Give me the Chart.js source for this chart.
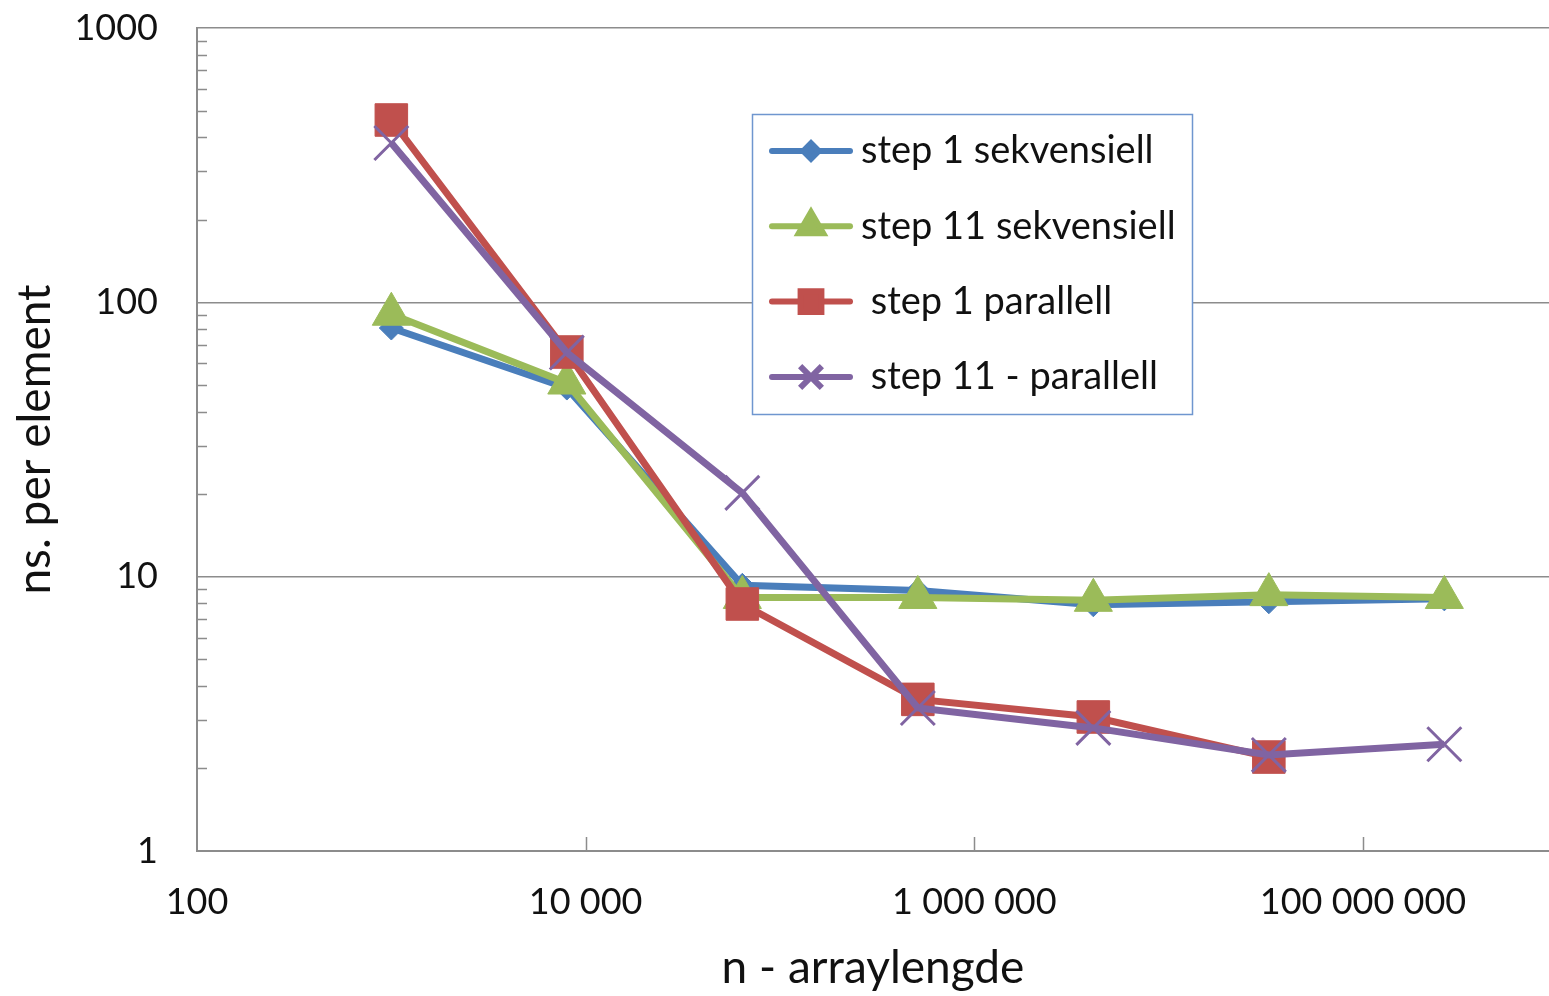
<!DOCTYPE html>
<html lang="no">
<head>
    <meta charset="UTF-8">
    <title>ns. per element</title>
    <script src="https://cdn.jsdelivr.net/npm/chart.js"></script>
    <style>
        body {
            margin: 0;
            background: #fff;
        }
        #wrap {
            width: 1549px;
            height: 996px;
            position: relative;
        }
    </style>
</head>
<body>
    <div id="wrap"><canvas id="chart"></canvas></div>
    <script>
        // array sizes (x) and ns per element (y)
        const arrayLengths = [1000, 8000, 64000, 512000, 4096000, 32768000, 262144000];
        const step1Seq  = [80.6, 48.7, 9.3, 8.9, 7.9, 8.1, 8.3];
        const step11Seq = [90.5, 50.8, 8.4, 8.4, 8.2, 8.6, 8.4];
        const step1Par  = [462, 65.9, 7.95, 3.57, 3.08, 2.2, null];
        const step11Par = [381, 65.6, 20.2, 3.32, 2.81, 2.24, 2.45];
        const seriesLabels = ['step 1 sekvensiell', 'step 11 sekvensiell', ' step 1 parallell', ' step 11 - parallell'];

        const xTickValues = [100, 10000, 1000000, 100000000];
        const yTickValues = [1, 10, 100, 1000];
        const yMinorTicks = [2, 3, 4, 5, 6, 7, 8, 9, 20, 30, 40, 50, 60, 70, 80, 90, 200, 300, 400, 500, 600, 700, 800, 900];

        const FONT = 'Lato, "DejaVu Sans", sans-serif';
        const AXIS_GREY = '#8c8c8c';
        const TEXT = '#111';

        function toPoints(values) {
            return arrayLengths.map((n, i) => ({ x: n, y: values[i] }));
        }

        function withSpaces(v) {
            return String(v).replace(/\B(?=(\d{3})+(?!\d))/g, ' ');
        }

        // minor ticks inside the plot + Excel-like legend box
        const decorations = {
            id: 'decorations',
            beforeDatasetsDraw(chart) {
                const ctx = chart.ctx;
                const xs = chart.scales.x, ys = chart.scales.y;
                const area = chart.chartArea;
                ctx.save();
                ctx.strokeStyle = AXIS_GREY;
                ctx.lineWidth = 1.5;
                ctx.beginPath();
                yMinorTicks.forEach(v => {
                    const py = Math.round(ys.getPixelForValue(v)) + 0.5;
                    ctx.moveTo(area.left, py);
                    ctx.lineTo(area.left + 10, py);
                });
                xTickValues.slice(1).forEach(v => {
                    const px = Math.round(xs.getPixelForValue(v)) + 0.5;
                    ctx.moveTo(px, area.bottom);
                    ctx.lineTo(px, area.bottom - 14);
                });
                ctx.stroke();
                ctx.restore();
            },
            afterDraw(chart) {
                const ctx = chart.ctx;
                const box = { left: 752, top: 114, right: 1192, bottom: 414 };
                ctx.save();
                ctx.fillStyle = '#fff';
                ctx.fillRect(box.left, box.top, box.right - box.left, box.bottom - box.top);
                ctx.strokeStyle = '#6f96cf';
                ctx.lineWidth = 1.5;
                ctx.strokeRect(box.left + 0.5, box.top + 0.5, box.right - box.left, box.bottom - box.top);

                chart.data.datasets.forEach((ds, i) => {
                    const y = box.top + 37 + i * 75.3;
                    ctx.strokeStyle = ds.borderColor;
                    ctx.lineWidth = 6;
                    ctx.lineCap = 'round';
                    ctx.beginPath();
                    ctx.moveTo(772, y);
                    ctx.lineTo(850, y);
                    ctx.stroke();

                    ctx.fillStyle = ds.pointBackgroundColor;
                    ctx.strokeStyle = ds.pointBorderColor;
                    ctx.lineCap = 'butt';
                    Chart.helpers.drawPoint(ctx, {
                        pointStyle: ds.pointStyle,
                        radius: ds.pointRadius * 0.64,
                        rotation: 0,
                        borderWidth: ds.pointStyle === 'crossRot' ? 2 : ds.pointBorderWidth
                    }, 811, y);

                    ctx.fillStyle = TEXT;
                    ctx.font = '38px ' + FONT;
                    ctx.textBaseline = 'middle';
                    ctx.textAlign = 'left';
                    ctx.fillText(ds.label, 861, y);
                });
                ctx.restore();
            }
        };

        function series(label, values, color, style, radius, borderWidth, order) {
            return {
                label: label,
                data: toPoints(values),
                borderColor: color,
                backgroundColor: color,
                borderWidth: 7,
                pointStyle: style,
                pointRadius: radius,
                pointHoverRadius: radius,
                pointBackgroundColor: color,
                pointBorderColor: color,
                pointBorderWidth: borderWidth,
                tension: 0,
                spanGaps: false,
                order: order
            };
        }

        const ctx = document.getElementById('chart').getContext('2d');
        new Chart(ctx, {
            type: 'line',
            data: {
                datasets: [
                    series(seriesLabels[0], step1Seq, '#4a7ebb', 'rectRot', 12, 1, 4),
                    series(seriesLabels[1], step11Seq, '#9bbb59', 'triangle', 22, 1, 3),
                    series(seriesLabels[2], step1Par, '#c0504d', 'rect', 23, 1, 2),
                    series(seriesLabels[3], step11Par, '#8064a2', 'crossRot', 24, 3, 1)
                ]
            },
            options: {
                responsive: true,
                maintainAspectRatio: false,
                animation: false,
                layout: {
                    autoPadding: false,
                    padding: { top: 28, right: 0, bottom: 0, left: 0 }
                },
                plugins: {
                    legend: { display: false },
                    tooltip: { enabled: false }
                },
                scales: {
                    x: {
                        type: 'logarithmic',
                        min: 100,
                        max: 9.06e8,
                        afterBuildTicks: scale => { scale.ticks = xTickValues.map(v => ({ value: v })); },
                        afterFit: scale => {
                            scale.height = 145;
                            scale.paddingLeft = 0;
                            scale.paddingRight = 0;
                        },
                        grid: { drawOnChartArea: false, drawTicks: false },
                        border: { display: true, color: AXIS_GREY, width: 2 },
                        ticks: {
                            padding: 30,
                            color: TEXT,
                            font: { family: FONT, size: 36 },
                            maxRotation: 0,
                            autoSkip: false,
                            callback: v => withSpaces(v)
                        },
                        title: {
                            display: true,
                            text: 'n - arraylengde',
                            color: TEXT,
                            font: { family: FONT, size: 46 },
                            padding: { top: 0, bottom: 0 }
                        }
                    },
                    y: {
                        type: 'logarithmic',
                        min: 1,
                        max: 1000,
                        afterBuildTicks: scale => { scale.ticks = yTickValues.map(v => ({ value: v })); },
                        afterFit: scale => {
                            scale.width = 197;
                            scale.paddingTop = 0;
                            scale.paddingBottom = 0;
                        },
                        grid: { color: AXIS_GREY, lineWidth: 1.5, drawTicks: false },
                        border: { display: true, color: AXIS_GREY, width: 2 },
                        ticks: {
                            padding: 39,
                            color: TEXT,
                            font: { family: FONT, size: 36 },
                            autoSkip: false,
                            callback: v => String(v)
                        },
                        title: {
                            display: true,
                            text: 'ns. per element',
                            color: TEXT,
                            font: { family: FONT, size: 46 },
                            padding: { top: 8, bottom: 0 }
                        }
                    }
                }
            },
            plugins: [decorations]
        });
    </script>
</body>
</html>
